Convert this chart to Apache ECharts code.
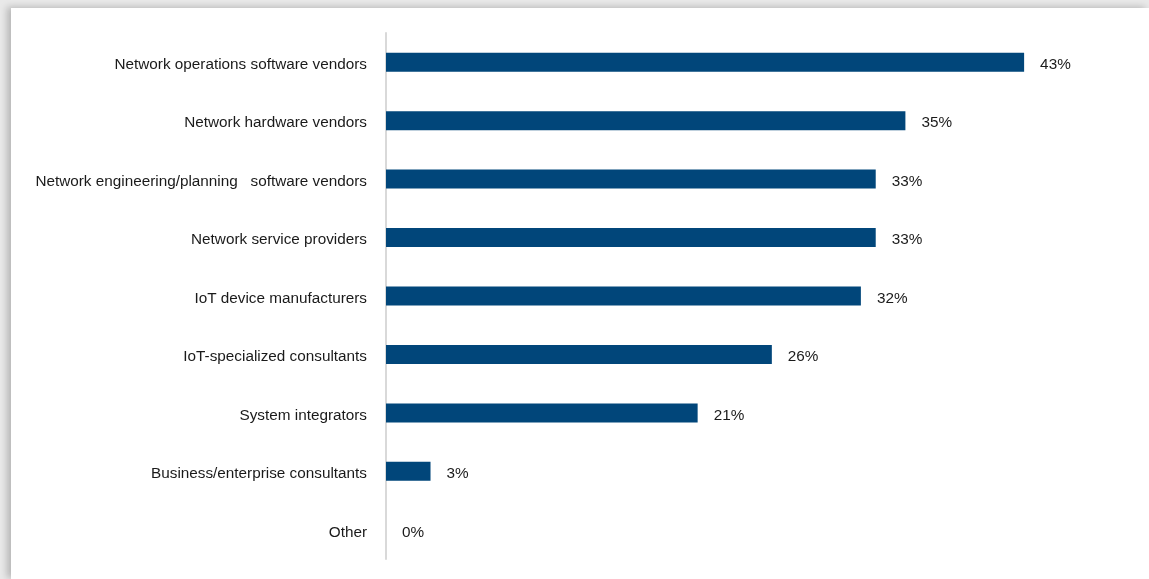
<!DOCTYPE html>
<html>
<head>
<meta charset="utf-8">
<script src="https://cdn.jsdelivr.net/npm/echarts@6/dist/echarts.min.js"></script>
<style>
  html, body { margin: 0; padding: 0; width: 1149px; height: 579px; overflow: hidden; background: #e9e9e9; }
  #frame {
    position: absolute; left: 11px; top: 8px; width: 1138px; height: 571px;
    background: #ffffff;
    box-shadow: -4px -1px 7px rgba(0, 0, 0, 0.22);
  }
  #chart { width: 1138px; height: 571px; }
</style>
</head>
<body>
<div id="frame"><div id="chart"></div></div>
<script>
// Who respondents turn to for network / IoT help (share of respondents, %)
const categories = [
  'Network operations software vendors',
  'Network hardware vendors',
  'Network engineering/planning   software vendors',
  'Network service providers',
  'IoT device manufacturers',
  'IoT-specialized consultants',
  'System integrators',
  'Business/enterprise consultants',
  'Other'
];
const shares = [43, 35, 33, 33, 32, 26, 21, 3, 0];

const FONT = "'Liberation Sans Narrow', 'Arial Narrow', 'Liberation Sans', Arial, sans-serif";

// text sits a touch below the bar centre line
const textStyle = {
  color: '#1a1a1a',
  fontFamily: FONT,
  fontSize: 15.3,
  padding: [5, 0, 0, 0]
};

const chart = echarts.init(document.getElementById('chart'), null, { renderer: 'canvas' });
chart.setOption({
  animation: false,
  backgroundColor: '#ffffff',
  grid: { left: 375, right: 21, top: 25, bottom: 20, containLabel: false },
  xAxis: {
    type: 'value',
    min: 0,
    max: 50,
    show: false
  },
  yAxis: {
    type: 'category',
    data: categories,
    inverse: true,
    axisLine: { show: true, lineStyle: { color: '#d9d9d9', width: 2 } },
    axisTick: { show: false },
    axisLabel: {
      margin: 19,
      formatter: v => '{t|' + v + '}',
      rich: { t: textStyle }
    }
  },
  series: [{
    type: 'bar',
    data: shares,
    barWidth: 19,
    itemStyle: { color: '#01467a' },
    label: {
      show: true,
      position: 'right',
      distance: 16,
      formatter: p => '{t|' + p.value + '%}',
      rich: { t: textStyle }
    }
  }]
});
</script>
</body>
</html>
